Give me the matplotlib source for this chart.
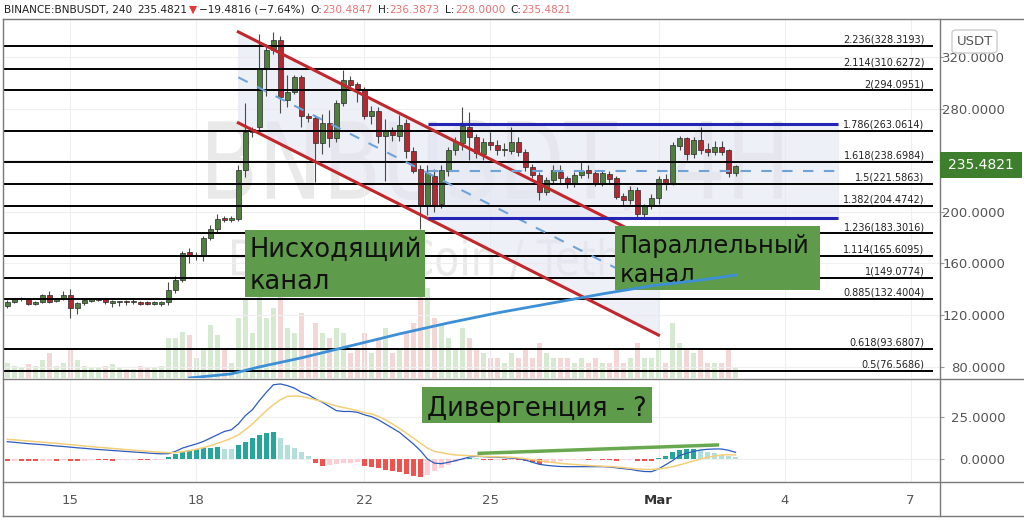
import numpy as np
import matplotlib
matplotlib.use("Agg")
import matplotlib.pyplot as plt
from matplotlib.patches import Rectangle, FancyBboxPatch, PathPatch
from matplotlib.textpath import TextPath
from matplotlib.font_manager import FontProperties
from matplotlib.transforms import Affine2D
from matplotlib.lines import Line2D

W, H = 1024, 522

# 4h candles, index 0 = Feb 13 12:00
opens = [127.1, 130.0, 132.4, 132.6, 128.2, 130.0, 135.3, 131.0, 132.4, 135.3,
         125.5, 129.2, 131.0, 131.5, 132.4, 129.2, 130.5, 130.6, 130.5, 130.5,
         130.2, 128.7, 128.2, 130.5, 139.8, 147.2, 168.5, 165.8, 166.0, 180.0,
         186.5, 195.4, 193.6, 194.5, 232.4, 262.0, 266.0, 311.2, 325.4, 333.5,
         286.7, 293.0, 304.3, 274.3, 272.5, 253.1, 269.0, 257.0, 284.5, 302.0,
         298.8, 295.0, 274.3, 278.4, 258.8, 263.4, 259.0, 269.0, 247.4, 233.0,
         205.3, 227.8, 206.0, 232.0, 248.0, 253.6, 265.5, 257.8, 244.8, 254.3,
         251.8, 248.0, 247.4, 254.3, 246.6, 234.5, 228.5, 215.6, 224.7, 231.1,
         226.0, 222.1, 228.5, 232.4, 229.8, 222.6, 229.3, 226.0, 212.2, 209.1,
         216.9, 198.3, 204.5, 210.5, 225.2, 222.6, 251.0, 257.0, 244.6, 255.7,
         248.7, 246.1, 250.5, 247.9, 230.4847]
highs = [131.9, 133.0, 134.0, 133.0, 131.0, 136.0, 139.0, 133.0, 138.5, 140.0,
         130.0, 133.5, 133.0, 133.0, 133.0, 132.0, 131.0, 132.0, 133.0, 131.0,
         131.0, 131.0, 131.0, 146.0, 150.0, 170.0, 172.0, 169.0, 181.0, 190.0,
         198.0, 196.5, 197.0, 236.0, 284.0, 266.0, 338.0, 330.0, 339.6, 336.0,
         306.0, 306.0, 306.0, 277.0, 275.0, 276.0, 279.0, 287.0, 310.0, 305.0,
         301.0, 297.0, 282.0, 281.0, 272.0, 266.0, 275.0, 272.0, 250.0, 236.0,
         236.3, 233.0, 236.0, 250.0, 258.0, 281.5, 277.6, 260.0, 257.0, 262.0,
         256.0, 253.0, 266.0, 258.0, 249.0, 237.0, 231.0, 227.0, 236.0, 236.0,
         228.0, 231.0, 238.8, 236.0, 232.0, 232.0, 232.0, 228.0, 215.0, 220.0,
         219.0, 206.0, 214.0, 228.0, 229.0, 254.0, 258.8, 258.0, 258.0, 266.0,
         253.0, 255.0, 255.0, 249.0, 236.3873]
lows = [125.3, 129.5, 131.0, 128.0, 127.5, 129.5, 129.0, 130.5, 132.0, 118.0,
        121.0, 128.0, 130.5, 131.0, 128.5, 126.0, 127.0, 128.0, 128.5, 127.5,
        127.5, 128.0, 127.0, 128.0, 137.0, 146.0, 160.0, 163.0, 162.0, 178.0,
        183.5, 192.0, 192.0, 193.0, 227.0, 258.0, 262.0, 290.0, 322.0, 277.0,
        281.0, 291.0, 266.0, 270.0, 223.0, 245.0, 250.0, 254.0, 282.0, 296.0,
        285.0, 272.0, 268.0, 253.0, 224.0, 255.0, 255.0, 242.0, 230.0, 187.0,
        197.5, 200.0, 203.0, 228.0, 244.0, 248.0, 240.0, 242.0, 240.0, 248.0,
        244.0, 243.0, 245.0, 243.0, 232.0, 226.0, 209.1, 213.0, 222.0, 222.0,
        218.2, 219.0, 226.0, 226.0, 220.0, 220.0, 222.0, 210.0, 205.0, 206.0,
        196.0, 196.0, 202.0, 206.0, 216.9, 221.0, 248.0, 240.0, 242.0, 245.0,
        243.0, 244.0, 244.0, 227.0, 228.0]
closes = [130.0, 132.4, 132.6, 128.4, 130.0, 135.3, 130.5, 132.4, 135.3, 125.3,
          129.2, 131.9, 132.6, 132.4, 129.8, 131.0, 130.8, 130.5, 130.6, 128.7,
          128.7, 130.5, 130.5, 139.8, 147.2, 168.2, 165.8, 166.5, 180.0, 186.5,
          194.5, 193.6, 195.4, 232.5, 262.0, 264.5, 311.2, 325.4, 333.0, 289.0,
          293.0, 304.7, 274.3, 272.5, 253.1, 269.1, 257.0, 284.6, 302.0, 298.3,
          295.0, 274.3, 278.4, 258.8, 263.4, 259.5, 267.3, 247.4, 232.0, 204.5,
          230.4, 205.3, 232.4, 247.9, 254.3, 266.5, 258.2, 245.3, 254.3, 251.8,
          248.0, 248.3, 254.3, 246.6, 234.5, 228.5, 215.6, 224.7, 232.4, 226.0,
          222.1, 228.5, 231.9, 229.8, 222.6, 230.4, 225.2, 211.7, 209.1, 216.9,
          198.3, 204.5, 210.5, 225.2, 222.6, 251.8, 257.0, 244.6, 255.7, 247.9,
          246.1, 250.5, 246.6, 230.4, 235.4821]
volumes = [15, 12, 10, 14, 12, 18, 25, 12, 15, 30, 18, 12, 10, 10, 12, 14, 10, 9, 9, 12, 10, 10, 12,
           40, 40, 46, 43, 20, 30, 53, 43, 28, 15,
           60, 78, 45, 85, 60, 70, 95, 50, 45, 65,
           30, 55, 45, 40, 50, 45, 25, 30, 45, 25,
           40, 50, 25, 30, 45, 55, 85, 90, 60, 55,
           40, 30, 50, 40, 30, 25, 20, 20, 15, 25,
           20, 30, 20, 35, 25, 20, 20, 20, 15, 20,
           15, 20, 15, 15, 30, 15, 20, 35, 20, 20,
           30, 15, 55, 35, 30, 25, 30, 15, 15, 15,
           30, 10]

macd = [10.4, 10.0, 9.6, 9.2, 8.9, 8.6, 8.2, 7.8, 7.5, 7.1, 6.7, 6.4,
        6.0, 5.7, 5.4, 5.1, 4.8, 4.5, 4.2, 3.9, 3.6, 3.3, 3.1, 3.2,
        4.5, 6.5, 7.8, 9.0, 10.5, 12.5, 14.5, 16.5, 17.5, 21.0, 26.0, 29.5,
        35.0, 40.0, 44.5, 45.0, 44.0, 42.5, 40.0, 38.5, 36.0, 34.0, 31.5, 29.0,
        28.5, 28.5, 28.0, 26.5, 25.4, 23.5, 21.0, 18.5, 16.0, 12.5, 9.0, 5.0,
        0.0, -2.5, -2.8, -2.0, -1.0, 0.0, 1.2, 1.6, 1.4, 1.2, 1.0, 0.8,
        0.5, 0.2, -0.6, -2.0, -3.2, -3.8, -4.2, -4.5, -4.6, -4.6, -4.6, -4.6,
        -4.6, -4.6, -4.8, -5.3, -5.8, -6.2, -7.0, -7.5, -7.6, -6.0, -3.5, -1.0,
        2.0, 3.5, 4.5, 5.4, 5.8, 6.0, 6.0, 5.2, 4.0]
signal = [11.8, 11.5, 11.1, 10.8, 10.4, 10.1, 9.7, 9.4, 9.0, 8.6, 8.2, 7.8,
          7.4, 7.0, 6.7, 6.3, 6.0, 5.6, 5.3, 4.9, 4.6, 4.3, 4.0, 3.8,
          3.8, 4.3, 5.0, 5.8, 6.8, 8.0, 9.3, 10.8, 12.4, 14.5, 17.5, 21.0,
          25.0, 29.0, 32.5, 35.5, 37.5, 37.8, 37.5, 36.5, 35.5, 34.5, 33.0, 31.8,
          30.8, 30.0, 29.0, 27.8, 27.0, 25.5, 23.5, 21.0, 18.4, 15.5, 12.5, 9.5,
          6.5, 4.5, 3.8, 3.0, 2.4, 2.2, 2.0, 1.8, 1.6, 1.4, 1.3, 1.2,
          1.0, 0.6, 0.2, -0.4, -1.0, -1.6, -2.1, -2.6, -3.0, -3.3, -3.6, -3.9,
          -4.1, -4.3, -4.5, -4.8, -5.2, -5.6, -6.0, -6.2, -6.3, -6.0, -5.4, -4.6,
          -3.5, -2.4, -1.2, 0.0, 1.0, 1.8, 2.4, 2.6, 2.4]
hist = [-1.2, -1.0, -1.0, -1.2, -1.4, -1.2, -1.0, -1.0, -0.9, -1.3, -1.4, -1.1,
        -0.8, -0.8, -0.9, -1.0, -0.9, -0.8, -0.7, -0.8, -0.8, -0.7, -0.6,
        1.0, 3.0, 4.4, 5.4, 6.0, 6.4, 6.6, 7.0, 6.2, 5.8, 8.4, 10.4, 12.4, 14.4,
        15.8, 16.4, 12.4, 8.4, 6.4, 4.4, 1.8,
        -2.6, -4.2, -3.4, -2.8, -2.4, -2.2, -2.0, -4.0, -5.0, -5.6, -6.4, -7.2,
        -8.0, -9.0, -10.0, -10.8, -9.6, -7.4, -5.2, -3.4, -1.8, -0.6,
        0.4, 0.3, -0.4, -0.6, -0.5, -0.5, -0.4, -0.8,
        -1.2, -2.0, -2.8, -2.6, -2.2,
        -1.2, -0.8, -0.6, -0.4, -0.6, -0.5, -0.5, -0.8, -1.0, -0.9, -0.7, -1.0, -1.2, -1.4,
        0.6, 2.0, 4.0, 5.4, 6.0, 6.2, 5.6, 4.4, 3.4, 2.6, 2.0, 1.4]

# moving average (read at a few candles)
ma_idx = [26, 32, 36, 42, 49, 56, 63, 70, 78, 85, 92, 99, 104]
ma_val = [71.2, 74.4, 79.8, 86.8, 96.1, 105.4, 113.9, 121.7, 129.5, 136.4, 142.7, 147.1, 151.0]

fib_ratios = ["2.236", "2.114", "2", "1.786", "1.618", "1.5", "1.382",
              "1.236", "1.114", "1", "0.885", "0.618", "0.5"]
fib_prices = [328.3193, 310.6272, 294.0951, 263.0614, 238.6984, 221.5863, 204.4742,
              183.3016, 165.6095, 149.0774, 132.4004, 93.6807, 76.5686]

# drawn channels
desc_x = [33.0, 93.0]
desc_upper = [339.5, 175.0]
desc_lower = [269.0, 104.5]
par_x = [60.1, 118.7]
par_upper = 268.1
par_lower = 195.2
div_x = [67.4, 101.4]
div_y = [3.4, 8.4]

date_ticks = [9, 27, 51, 69, 93, 111, 129]
date_labels = ["15", "18", "22", "25", "Mar", "4", "7"]
price_ticks = [80, 120, 160, 200, 240, 280, 320]
last_price = 235.4821
XMIN, XMAX = -0.61, 133.2

fig = plt.figure(figsize=(W / 100, H / 100), dpi=100)
fig.patch.set_facecolor("white")


def fig_rect(x0, y0, x1, y1):
    return [x0 / W, 1 - y1 / H, (x1 - x0) / W, (y1 - y0) / H]


def watermark(axis, text, x0, x1, y_top, y_bottom):
    path = TextPath((0, 0), text, size=100, prop=FontProperties(family="DejaVu Sans"))
    bb = path.get_extents()
    tr = (Affine2D().translate(-bb.x0, -bb.y0)
          .scale((x1 - x0) / bb.width, (y_bottom - y_top) / bb.height)
          .translate(x0, H - y_bottom))
    axis.add_patch(PathPatch(path, transform=tr, fc="#e9e9e9", ec="none", zorder=0.5))


main_rect = fig_rect(3, 19, 940, 378)
ax_v = fig.add_axes(main_rect, zorder=0)
ax = fig.add_axes(main_rect, zorder=1)
ax.patch.set_visible(False)
axm = fig.add_axes(fig_rect(3, 379, 940, 482), zorder=1)

idx = np.arange(len(closes))
o, h, l, c = map(np.array, (opens, highs, lows, closes))
up = c >= o

# volume + watermark (behind everything)
watermark(ax_v, "BNBUSDT, 4H", 208, 782, 120, 211)
watermark(ax_v, "Binance Coin / TetherUS", 232, 718, 238, 280)
ax_v.bar(idx, volumes, width=0.72, color=np.where(up, "#d6e9d1", "#f3d7d7"), zorder=1)
ax_v.set_xlim(XMIN, XMAX)
ax_v.set_ylim(0, 359)
ax_v.axis("off")

# channels
ax.fill_between(desc_x, desc_lower, desc_upper, color="#e4e6f3", alpha=0.6, zorder=1)
ax.fill_between(par_x, [par_lower] * 2, [par_upper] * 2, color="#e4e6f3", alpha=0.6, zorder=1)

# candles
ax.vlines(idx, l, h, color="#4a4a4a", lw=0.8, zorder=3)
ax.bar(idx, np.maximum(np.abs(c - o), 0.6), bottom=np.minimum(o, c), width=0.64,
       color=np.where(up, "#4e7f3f", "#b22a2f"), edgecolor="#2a2a2a", lw=0.5, zorder=4)

# fib levels
ax.hlines(fib_prices, XMIN, 132.2, color="black", lw=1.4, zorder=5)
for r, p in zip(fib_ratios, fib_prices):
    ax.annotate(f"{r}({p:.4f})", (131.0, p), xytext=(0, 1), textcoords="offset points",
                ha="right", va="bottom", fontsize=7, color="#222", zorder=5)

ax.plot(desc_x, desc_upper, color="#c0282d", lw=2.2, zorder=6)
ax.plot(desc_x, desc_lower, color="#c0282d", lw=2.2, zorder=6)
ax.plot(desc_x, [(a + b) / 2 for a, b in zip(desc_upper, desc_lower)], color="#6fa3d8",
        lw=1.5, dashes=(5, 5), zorder=6)
ax.hlines([par_upper, par_lower], par_x[0], par_x[1], color="#2424b4", lw=2.2, zorder=6)
ax.hlines((par_upper + par_lower) / 2, par_x[0], par_x[1], color="#6fa3d8", lw=1.5,
          linestyles=(0, (5, 5)), zorder=6)

# text boxes
box_green = "#5e9b4b"
ax.add_patch(Rectangle((33.96, 134.0), 25.74, 51.9, fc=box_green, ec="none", zorder=7))
ax.text(34.6, 164.9, "Нисходящий", fontsize=18.5, color="#111", va="baseline", zorder=8)
ax.text(34.6, 140.2, "канал", fontsize=18.5, color="#111", va="baseline", zorder=8)
ax.add_patch(Rectangle((86.8, 139.4), 29.3, 49.6, fc=box_green, ec="none", zorder=7))
ax.text(87.5, 168.1, "Параллельный", fontsize=17.5, color="#111", va="baseline", zorder=8)
ax.text(87.5, 145.6, "канал", fontsize=17.5, color="#111", va="baseline", zorder=8)

ax.plot(ma_idx, ma_val, color="#3d8fd6", lw=2.0, zorder=9)

ax.set_xlim(XMIN, XMAX)
ax.set_ylim(71.2, 349.5)
ax.set_xticks(date_ticks)
ax.set_yticks(price_ticks)
ax.grid(True, color="#efefef", lw=0.8, zorder=0)
ax.set_axisbelow(True)
ax.yaxis.tick_right()
# the 240 label sits under the last-price tag
ax.set_yticklabels(["" if abs(v - last_price) < 10 else f"{v:.4f}" for v in price_ticks])
ax.tick_params(axis="x", length=0, labelbottom=False)
ax.tick_params(axis="y", length=3, color="#999", labelsize=9.5, labelcolor="#555", pad=44)
for lab in ax.get_yticklabels():
    lab.set_horizontalalignment("right")
for s in ax.spines.values():
    s.set_visible(False)

# MACD panel
hist_colors = []
for k, v in enumerate(hist):
    prev = hist[k - 1] if k else v
    if v >= 0:
        hist_colors.append("#26a69a" if v >= prev else "#b2dfdb")
    else:
        hist_colors.append("#ef5350" if v <= prev else "#ffcdd2")
axm.bar(idx, hist, width=0.7, color=hist_colors, zorder=2)
axm.plot(idx, macd, color="#2c5bbf", lw=0.9, zorder=3)
axm.plot(idx, signal, color="#f3cf7a", lw=1.1, zorder=3)
axm.plot(div_x, div_y, color="#6aa84f", lw=2.5, zorder=4)
axm.add_patch(Rectangle((59.2, 21.6), 32.9, 21.6, fc=box_green, ec="none", zorder=5))
axm.text(60.0, 25.8, "Дивергенция - ?", fontsize=18.5, color="#111", va="baseline", zorder=6)

axm.set_xlim(XMIN, XMAX)
axm.set_ylim(-13.8, 47.96)
axm.set_xticks(date_ticks)
axm.set_xticklabels(date_labels)
axm.set_yticks([0, 25])
axm.yaxis.tick_right()
axm.set_yticklabels(["0.0000", "25.0000"])
axm.grid(True, color="#efefef", lw=0.8, zorder=0)
axm.set_axisbelow(True)
axm.tick_params(axis="x", length=0, labelsize=9.5, labelcolor="#555", pad=9)
axm.tick_params(axis="y", length=3, color="#999", labelsize=9.5, labelcolor="#555", pad=44)
for lab in axm.get_yticklabels():
    lab.set_horizontalalignment("right")
for lab in axm.get_xticklabels():
    if lab.get_text() == "Mar":
        lab.set_fontweight("bold")
        lab.set_color("#333")
for s in axm.spines.values():
    s.set_visible(False)


# frame lines
def fline(x0, y0, x1, y1, color="#7a7a7a", lw=1.0):
    fig.add_artist(Line2D([x0 / W, x1 / W], [1 - y0 / H, 1 - y1 / H],
                          transform=fig.transFigure, color=color, lw=lw, zorder=2))


fline(3, 18.5, W, 18.5)
fline(3, 18.5, 3, 516)
fline(3, 516, W, 516)
fline(940, 18.5, 940, 516)
fline(3, 378.5, W, 378.5)
fline(3, 482, W, 482)

# last price label and currency box
fig.add_artist(Rectangle((940 / W, 1 - 178 / H), 82 / W, 26 / H, transform=fig.transFigure,
                         fc="#3d7f2c", ec="none", zorder=3))
fig.text(981 / W, 1 - 165 / H, f"{last_price:.4f}", color="white", fontsize=10,
         ha="center", va="center", zorder=4)
fig.add_artist(FancyBboxPatch((952 / W, 1 - 53 / H), 45 / W, 23 / H,
                              boxstyle="round,pad=0,rounding_size=0.005",
                              transform=fig.transFigure, fc="white", ec="#cccccc",
                              lw=1, zorder=3))
fig.text(974.5 / W, 1 - 41.5 / H, "USDT", color="#555", fontsize=9.5,
         ha="center", va="center", zorder=4)

# header, laid out piece by piece
header = [("BINANCE:BNBUSDT, 240", "#222", 5), ("235.4821", "#222", 2),
          ("▼", "#e53935", 2), ("−19.4816 (−7.64%)", "#222", 5),
          ("O:", "#222", 0.5), ("230.4847", "#e57373", 5),
          ("H:", "#222", 0.5), ("236.3873", "#e57373", 5),
          ("L:", "#222", 0.5), ("228.0000", "#e57373", 5),
          ("C:", "#222", 0.5), ("235.4821", "#e57373", 0)]
renderer = fig.canvas.get_renderer()
x = 4
for s, col, gap in header:
    t = fig.text(x / W, 1 - 10 / H, s, color=col, fontsize=7.6, ha="left", va="center")
    x = t.get_window_extent(renderer).x1 + gap

fig.savefig("out.png", dpi=100)
